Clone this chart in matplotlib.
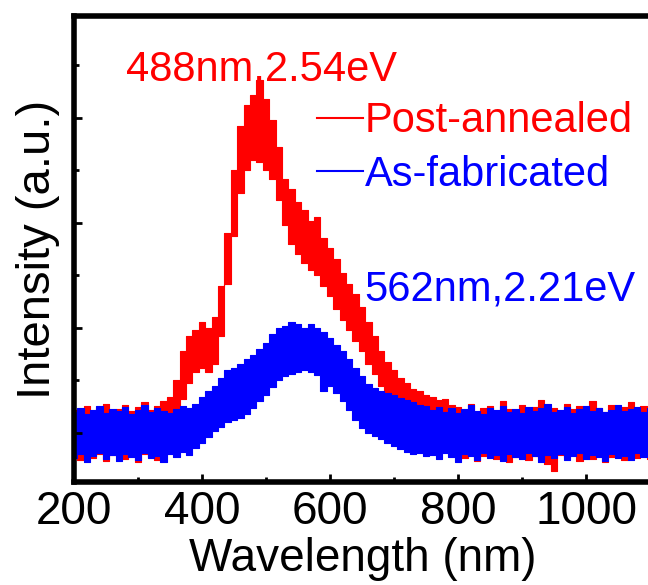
import numpy as np
import matplotlib.pyplot as plt
from matplotlib.ticker import MultipleLocator, NullFormatter

# wavelength grid (nm), envelope of the noisy PL spectra read every 10 nm
wl = np.arange(200, 1101, 10)

post_hi = [0.22, 0.18, 0.26, 0.20, 0.24, 0.28, 0.19, 0.23, 0.27, 0.21, 0.25, 0.29, 0.22, 0.26, 0.30,
           0.34, 0.50, 0.78, 0.92, 0.98, 1.06, 1.00, 1.10, 1.40, 1.90, 2.50, 2.92, 3.12, 3.22, 3.36,
           3.18, 2.98, 2.72, 2.42, 2.32, 2.20, 2.12, 2.02, 2.06, 1.86, 1.76, 1.66, 1.52, 1.42, 1.32,
           1.20, 1.06, 0.92, 0.78, 0.68, 0.60, 0.52, 0.48, 0.42, 0.40, 0.36, 0.34, 0.31, 0.32, 0.27,
           0.25, 0.22, 0.28, 0.20, 0.24, 0.26, 0.21, 0.30, 0.23, 0.20, 0.27, 0.22, 0.25, 0.31, 0.21,
           0.24, 0.20, 0.28, 0.23, 0.26, 0.22, 0.30, 0.24, 0.20, 0.27, 0.23, 0.25, 0.29, 0.22, 0.26, 0.24]
post_lo = [-0.22, -0.26, -0.18, -0.24, -0.20, -0.27, -0.21, -0.19, -0.25, -0.22, -0.28, -0.20, -0.23, -0.26, -0.21,
           -0.15, 0.02, 0.32, 0.48, 0.58, 0.62, 0.58, 0.66, 0.92, 1.42, 1.88, 2.28, 2.50, 2.60, 2.58,
           2.50, 2.42, 2.22, 1.98, 1.80, 1.70, 1.62, 1.55, 1.50, 1.40, 1.30, 1.18, 1.08, 0.98, 0.88,
           0.78, 0.66, 0.56, 0.45, 0.37, 0.30, 0.24, 0.18, 0.12, 0.08, 0.03, -0.02, -0.06, -0.12, -0.16,
           -0.20, -0.24, -0.19, -0.27, -0.22, -0.20, -0.25, -0.21, -0.28, -0.23, -0.20, -0.26, -0.22, -0.24, -0.30,
           -0.36, -0.21, -0.23, -0.20, -0.27, -0.22, -0.25, -0.21, -0.28, -0.23, -0.20, -0.26, -0.22, -0.24, -0.21, -0.25]

asfab_hi = [0.20, 0.24, 0.18, 0.22, 0.26, 0.19, 0.23, 0.21, 0.25, 0.18, 0.22, 0.27, 0.20, 0.24, 0.21,
            0.19, 0.23, 0.26, 0.24, 0.28, 0.34, 0.40, 0.45, 0.52, 0.60, 0.62, 0.66, 0.70, 0.74, 0.80,
            0.86, 0.94, 1.00, 1.02, 1.06, 1.04, 1.00, 1.04, 1.00, 0.96, 0.90, 0.84, 0.78, 0.70, 0.62,
            0.54, 0.47, 0.43, 0.40, 0.38, 0.36, 0.33, 0.31, 0.29, 0.27, 0.26, 0.22, 0.25, 0.20, 0.24,
            0.19, 0.23, 0.27, 0.21, 0.18, 0.24, 0.22, 0.26, 0.20, 0.23, 0.19, 0.25, 0.21, 0.24, 0.28,
            0.20, 0.22, 0.25, 0.19, 0.23, 0.26, 0.21, 0.24, 0.20, 0.22, 0.27, 0.21, 0.23, 0.25, 0.20, 0.24]
asfab_lo = [-0.24, -0.20, -0.28, -0.22, -0.19, -0.25, -0.21, -0.27, -0.20, -0.23, -0.26, -0.19, -0.24, -0.22, -0.28,
            -0.20, -0.23, -0.18, -0.21, -0.14, -0.10, -0.04, 0.02, 0.06, 0.10, 0.12, 0.14, 0.18, 0.24, 0.30,
            0.36, 0.44, 0.50, 0.54, 0.56, 0.58, 0.60, 0.58, 0.55, 0.40, 0.45, 0.38, 0.30, 0.22, 0.12,
            0.05, 0.00, -0.03, -0.06, -0.10, -0.12, -0.15, -0.18, -0.20, -0.19, -0.22, -0.21, -0.25, -0.19, -0.23,
            -0.28, -0.20, -0.22, -0.26, -0.19, -0.24, -0.21, -0.27, -0.20, -0.23, -0.25, -0.19, -0.22, -0.28, -0.21,
            -0.24, -0.20, -0.26, -0.22, -0.19, -0.25, -0.21, -0.23, -0.27, -0.20, -0.24, -0.22, -0.26, -0.19, -0.23, -0.21]

plt.rcParams['font.family'] = ['Liberation Sans', 'DejaVu Sans']

fig = plt.figure(figsize=(6.48, 5.85), dpi=100)
ax = fig.add_axes([74/648, 1 - 482/585, 578/648, 466/585])

# spectra drawn as noise bands, blue on top of red
ax.fill_between(wl, post_lo, post_hi, step='mid', color='red', lw=0.8, edgecolor='red')
ax.fill_between(wl, asfab_lo, asfab_hi, step='mid', color='blue', lw=0.8, edgecolor='blue')

# legend proxies
ax.plot([], [], color='red', lw=1.5, label='Post-annealed')
ax.plot([], [], color='blue', lw=1.5, label='As-fabricated')
ax.legend(loc='upper left', bbox_to_anchor=(0.42, 0.817), frameon=False, fontsize=30,
          handlelength=1.1, handletextpad=0.05, labelspacing=0.32, borderpad=0,
          borderaxespad=0, labelcolor='linecolor')

ax.text(0.09, 0.861, '488nm,2.54eV', color='red', fontsize=30, transform=ax.transAxes, va='baseline')
ax.text(0.503, 0.39, '562nm,2.21eV', color='blue', fontsize=30, transform=ax.transAxes, va='baseline')

ax.set_xlim(200, 1103)
ax.set_ylim(-0.467, 3.97)
ax.xaxis.set_major_locator(MultipleLocator(200))
ax.xaxis.set_minor_locator(MultipleLocator(100))
ax.yaxis.set_major_locator(MultipleLocator(1))
ax.yaxis.set_minor_locator(MultipleLocator(0.5))
ax.yaxis.set_major_formatter(NullFormatter())
ax.tick_params(which='both', direction='in', width=2, labelsize=33, pad=6)
ax.tick_params(which='major', length=6)
ax.tick_params(which='minor', length=3.5)
for s in ax.spines.values():
    s.set_linewidth(4)

ax.set_xlabel('Wavelength (nm)', fontsize=33, labelpad=2)
ax.set_ylabel('Intensity (a.u.)', fontsize=34, labelpad=4)

fig.savefig('out.png', dpi=100)
